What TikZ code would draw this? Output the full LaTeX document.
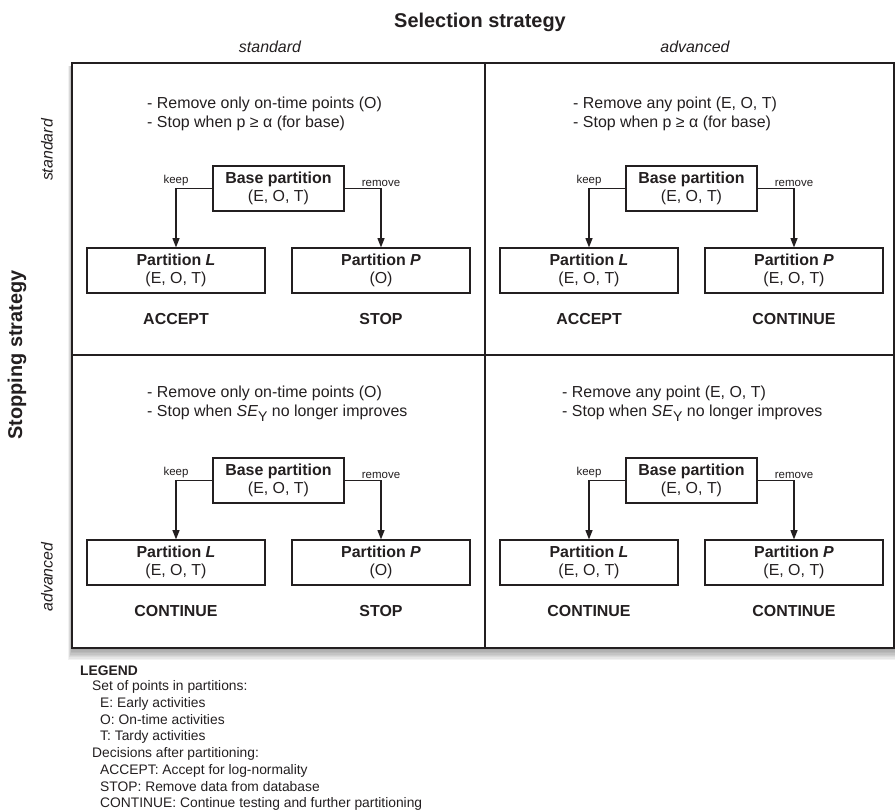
\documentclass[tikz,border=0pt]{standalone}
\usepackage{fontspec}
\setmainfont{Liberation Sans}
\usetikzlibrary{arrows.meta,positioning}
\definecolor{ink}{RGB}{35,31,32}
\newcommand\txtfont{\fontsize{13.6}{16}\selectfont}
\newcommand\tagfont{\fontsize{9.8}{11}\selectfont}
\newcommand\legfont{\fontsize{11.8}{14}\selectfont}
\newcommand\headfont{\fontsize{17}{20}\selectfont\bfseries}
\newcommand\subY{\raisebox{-0.55ex}{\fontsize{12}{12}\selectfont Y}}
\tikzset{
  >={Triangle[length=2.8mm,width=2.1mm]},
  quad/.style={draw=ink,line width=0.6mm,fill=white},
  part/.style={draw=ink,line width=0.35mm,fill=white,minimum width=#1,
    minimum height=13.5mm,align=center,font=\txtfont,text=ink,inner sep=0pt},
  part/.default=53.4mm,
  rule/.style={anchor=base west,font=\txtfont,text=ink,inner sep=0pt},
  decision/.style={font=\txtfont\bfseries,text=ink},
  flow/.style={->,draw=ink,line width=0.35mm},
  tag/.style={font=\tagfont,text=ink,inner sep=1.5pt},
  axis/.style={font=\headfont,text=ink},
  level/.style={font=\txtfont\itshape,text=ink},
  legend/.style={anchor=west,font=\legfont,text=ink,inner sep=0pt},
}
\begin{document}
\begin{tikzpicture}[x=0.3mm,y=-0.3mm]
  \useasboundingbox (0,0) rectangle (895,811);
  % soft shadow under the grid
  \foreach \s in {1,...,8}
    \fill[black,opacity=0.05] (72-0.5*\s,66) rectangle (894+0.5*\s,649+1.4*\s);
  % the four quadrants
  \foreach \x/\y/\w in {72/63/413,485/63/409,72/355/413,485/355/409}
    \draw[quad] (\x,\y) rectangle ++(\w,293);
  % axis headings
  \node[axis] (sel) at (480,22) {Selection strategy};
  \node[level] (sel-std) at (270,47) {standard};
  \node[level] (sel-adv) at (695,47) {advanced};
  \node[axis,rotate=90] (stop) at (17,355) {Stopping strategy};
  \node[level,rotate=90] (stop-std) at (47,150) {standard};
  \node[level,rotate=90] (stop-adv) at (47,577) {advanced};
  % rules, partitions and decisions per quadrant
  \foreach \q/\ox/\oy/\tx/\ty/\ruleA/\ruleB/\pset/\decL/\decP in {
    a/72/63/75/46/{Remove only on-time points (O)}/{Stop when p ≥ α (for base)}/{(O)}/ACCEPT/STOP,
    b/485/63/88/46/{Remove any point (E, O, T)}/{Stop when p ≥ α (for base)}/{(E, O, T)}/ACCEPT/CONTINUE,
    c/72/355/75/43/{Remove only on-time points (O)}/{Stop when \textit{SE}\subY{} no longer improves}/{(O)}/CONTINUE/STOP,
    d/485/355/77/43/{Remove any point (E, O, T)}/{Stop when \textit{SE}\subY{} no longer improves}/{(E, O, T)}/CONTINUE/CONTINUE}{
    \node[rule] (ra-\q) at (\ox+\tx,\oy+\ty) {- \ruleA};
    \node[rule] (rb-\q) at (\ox+\tx,\oy+\ty+19) {- \ruleB};
    \node[part=39.3mm] (base-\q) at (\ox+206.5,\oy+125.5) {\textbf{Base partition}\\(E, O, T)};
    \node[part] (L-\q) at (\ox+104,\oy+207.5) {\textbf{Partition \textit{L}}\\(E, O, T)};
    \node[part] (P-\q) at (\ox+309,\oy+207.5) {\textbf{Partition \textit{P}}\\\pset};
    \node[decision] (dL-\q) at (\ox+104,\oy+256) {\decL};
    \node[decision] (dP-\q) at (\ox+309,\oy+256) {\decP};
    \draw[flow] (base-\q.west) -| node[tag,above] {keep} (L-\q.north);
    \draw[flow] (base-\q.east) -| node[tag,above] {remove} (P-\q.north);
  }
  % legend
  \foreach \y/\x/\t [count=\i] in {671/80/{\textbf{LEGEND}},
    687/92/{Set of points in partitions:},
    704/100/{E: Early activities},
    720/100/{O: On-time activities},
    737/100/{T: Tardy activities},
    754/92/{Decisions after partitioning:},
    771/100/{ACCEPT: Accept for log-normality},
    787/100/{STOP: Remove data from database},
    804/100/{CONTINUE: Continue testing and further partitioning}}
    \node[legend] (leg-\i) at (\x,\y) {\t};
\end{tikzpicture}
\end{document}
